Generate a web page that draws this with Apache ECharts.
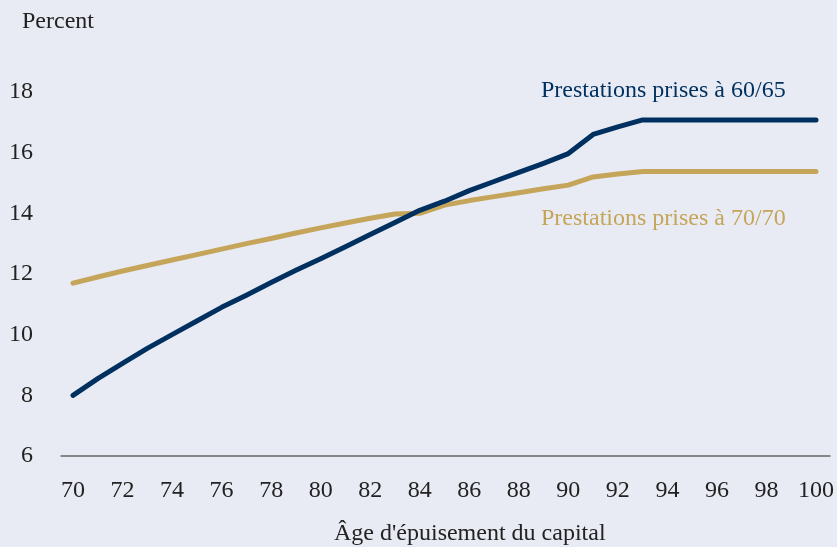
<!DOCTYPE html>
<html>
<head>
<meta charset="utf-8">
<script src="https://cdn.jsdelivr.net/npm/echarts@6/dist/echarts.min.js"></script>
<style>
html,body{margin:0;padding:0;background:#e8ebf3;}
#chart{width:837px;height:547px;}
</style>
</head>
<body>
<div id="chart"></div>
<script>
const ages = [70,71,72,73,74,75,76,77,78,79,80,81,82,83,84,85,86,87,88,89,90,91,92,93,94,95,96,97,98,99,100];
const benefits6065 = [8.0,8.55,9.05,9.55,10.0,10.45,10.9,11.3,11.72,12.12,12.5,12.9,13.3,13.7,14.1,14.4,14.75,15.05,15.35,15.65,15.97,16.6,16.85,17.08,17.08,17.08,17.08,17.08,17.08,17.08,17.08];
const benefits7070 = [11.7,11.9,12.1,12.28,12.46,12.64,12.82,13.0,13.17,13.35,13.52,13.68,13.84,13.98,14.0,14.27,14.42,14.55,14.68,14.81,14.93,15.2,15.3,15.38,15.38,15.38,15.38,15.38,15.38,15.38,15.38];
const seriesNames = ['Prestations prises à 60/65','Prestations prises à 70/70'];
const yTitle = 'Percent';
const xTitle = "Âge d'épuisement du capital";

const FONT = '"Liberation Serif","DejaVu Serif",serif';
const BLUE = '#00305f';
const GOLD = '#c5a55a';
const chart = echarts.init(document.getElementById('chart'), null, {renderer:'canvas'});
const toPairs = (ys) => ages.map((a,i)=>[a, ys[i]]);
chart.setOption({
  backgroundColor:'#e8ebf3',
  animation:false,
  grid:[
    {left:73,right:19,top:92,bottom:91},
    {left:61,right:7,top:92,bottom:91}
  ],
  xAxis:[
    {type:'value',gridIndex:0,min:70,max:100,interval:2,
     axisLine:{show:false},axisTick:{show:false},splitLine:{show:false},
     axisLabel:{color:'#222',fontFamily:FONT,fontSize:24,margin:23}},
    {type:'value',gridIndex:1,min:0,max:1,
     axisLine:{show:true,lineStyle:{color:'#666',width:1.5}},axisTick:{show:false},
     axisLabel:{show:false},splitLine:{show:false}}
  ],
  yAxis:[
    {type:'value',gridIndex:0,min:6,max:18,interval:2,
     axisLine:{show:false},axisTick:{show:false},splitLine:{show:false},
     axisLabel:{color:'#222',fontFamily:FONT,fontSize:24,margin:40}},
    {type:'value',gridIndex:1,min:0,max:1,show:false}
  ],
  graphic:[
    {type:'text',left:22,top:10,style:{text:yTitle,font:'24px '+FONT,fill:'#222'}},
    {type:'text',left:334,top:522,style:{text:xTitle,font:'24px '+FONT,fill:'#222'}},
    {type:'text',left:541,top:79,style:{text:seriesNames[0],font:'24px '+FONT,fill:BLUE}},
    {type:'text',left:541,top:207,style:{text:seriesNames[1],font:'24px '+FONT,fill:GOLD}}
  ],
  series:[
    {name:seriesNames[1],type:'line',xAxisIndex:0,yAxisIndex:0,data:toPairs(benefits7070),
     symbol:'none',lineStyle:{color:GOLD,width:5,cap:'round',join:'round'}},
    {name:seriesNames[0],type:'line',xAxisIndex:0,yAxisIndex:0,data:toPairs(benefits6065),
     symbol:'none',lineStyle:{color:BLUE,width:5,cap:'round',join:'round'}}
  ]
});
</script>
</body>
</html>
